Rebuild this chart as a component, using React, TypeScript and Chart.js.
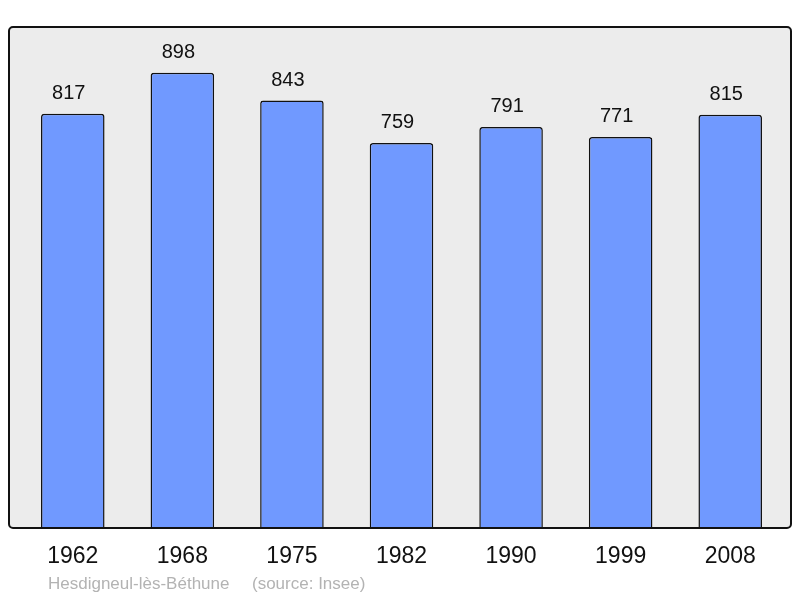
import React, { useEffect, useRef } from "react";
import { Chart, registerables } from "chart.js";

Chart.register(...registerables);

const years = ["1962", "1968", "1975", "1982", "1990", "1999", "2008"];
const population = [817, 898, 843, 759, 791, 771, 815];
const footerName = "Hesdigneul-lès-Béthune";
const footerSource = "(source: Insee)";

const FONT = "'Liberation Sans', Arial, sans-serif";

export default function App() {
  const ref = useRef<HTMLCanvasElement | null>(null);

  useEffect(() => {
    if (!ref.current) return;
    const framePlugin = {
      id: "frame",
      beforeDraw(chart: any) {
        const ctx = chart.ctx;
        ctx.save();
        ctx.beginPath();
        ctx.roundRect(9, 27, 782, 501, 4);
        ctx.fillStyle = "#ececec";
        ctx.fill();
        ctx.restore();
      },
      afterDatasetsDraw(chart: any) {
        const ctx = chart.ctx;
        ctx.save();
        ctx.beginPath();
        ctx.roundRect(9, 27, 782, 501, 4);
        ctx.lineWidth = 2;
        ctx.strokeStyle = "#111";
        ctx.stroke();
        const meta = chart.getDatasetMeta(0);
        ctx.font = `20px ${FONT}`;
        ctx.fillStyle = "#111";
        ctx.textAlign = "center";
        ctx.textBaseline = "alphabetic";
        meta.data.forEach((bar: any, i: number) => {
          ctx.fillText(String(population[i]), bar.x - 4, bar.y - 15);
        });
        ctx.font = `17px ${FONT}`;
        ctx.fillStyle = "#b3b3b3";
        ctx.textAlign = "left";
        ctx.fillText(footerName, 48, 589);
        ctx.fillText(footerSource, 252, 589);
        ctx.restore();
      },
    };

    const chart = new Chart(ref.current, {
      type: "bar",
      data: {
        labels: years,
        datasets: [
          {
            data: population,
            backgroundColor: "#7099ff",
            borderColor: "#111",
            borderWidth: 1.5,
            borderRadius: { topLeft: 3, topRight: 3, bottomLeft: 0, bottomRight: 0 },
            borderSkipped: "bottom",
            barPercentage: 0.58,
            categoryPercentage: 1,
          },
        ],
      },
      options: {
        animation: false,
        responsive: false,
        maintainAspectRatio: false,
        layout: { padding: { left: 18, right: 15, top: 27, bottom: 0 } },
        plugins: { legend: { display: false }, tooltip: { enabled: false } },
        scales: {
          x: {
            grid: { display: false, drawTicks: false },
            border: { display: false },
            ticks: { font: { size: 23, family: FONT }, color: "#111", padding: 15 },
            afterFit(scale: any) {
              scale.height = 70;
            },
          },
          y: {
            display: false,
            min: 0,
            max: 988,
          },
        },
      },
      plugins: [framePlugin],
    });
    return () => chart.destroy();
  }, []);

  return (
    <div style={{ position: "fixed", left: 0, top: 0, width: 800, height: 598, background: "#fff" }}>
      <canvas ref={ref} width={800} height={598} style={{ width: 800, height: 598 }} />
    </div>
  );
}
